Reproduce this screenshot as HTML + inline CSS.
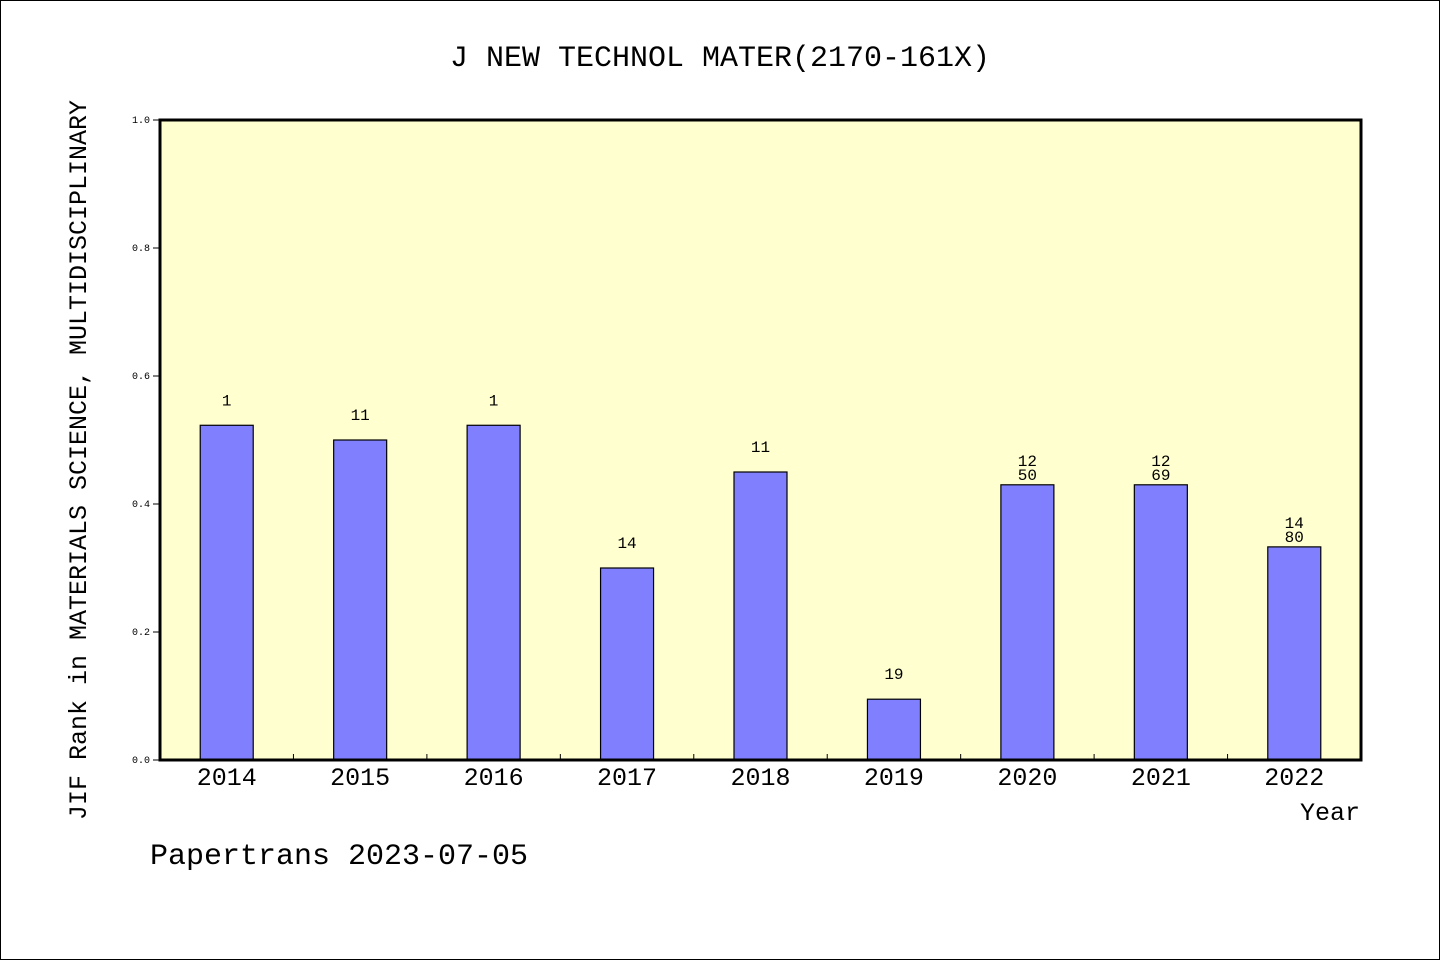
<!DOCTYPE html>
<html><head><meta charset="utf-8"><style>
html,body{margin:0;padding:0;background:#fff}
svg{display:block}
text{font-family:"Liberation Mono","DejaVu Sans Mono",monospace;fill:#000}
</style></head><body>
<svg id="chart" width="1440" height="960" xmlns="http://www.w3.org/2000/svg">
<rect x="0.5" y="0.5" width="1439" height="959" fill="#fff" stroke="#000"/>
<text x="720" y="66" font-size="30" text-anchor="middle">J NEW TECHNOL MATER(2170-161X)</text>
<rect x="160" y="120" width="1201" height="640" fill="#ffffd0"/>
<g id="bars"></g>
<g id="axes"></g>
<rect x="160" y="120" width="1201" height="640" fill="none" stroke="#000" stroke-width="3"/>
<text transform="translate(86,460) rotate(-90)" font-size="25" text-anchor="middle">JIF Rank in MATERIALS SCIENCE, MULTIDISCIPLINARY</text>
<text x="1360" y="820" font-size="25" text-anchor="end">Year</text>
<text x="150" y="864" font-size="30">Papertrans 2023-07-05</text>
</svg>
<script>
const categories = ["2014","2015","2016","2017","2018","2019","2020","2021","2022"];
const values = [0.523, 0.5, 0.523, 0.3, 0.45, 0.095, 0.43, 0.43, 0.333];
const labelTop = ["1","11","1","14","11","19","12","12","14"];
const labelBottom = ["","","","","","","50","69","80"];
const yTicks = ["0.0","0.2","0.4","0.6","0.8","1.0"];
const NS="http://www.w3.org/2000/svg";
const X0=160,X1=1361,Y0=760,Y1=120;
const step=(X1-X0)/categories.length;
const xc=i=>X0+step*(i+0.5);
const y=v=>Y0-(v)*(Y0-Y1);
const bars=document.getElementById('bars'), axes=document.getElementById('axes');
function mk(tag,attrs,parent){const e=document.createElementNS(NS,tag);for(const k in attrs)e.setAttribute(k,attrs[k]);parent.appendChild(e);return e;}
categories.forEach((c,i)=>{
  const bw=53, top=y(values[i]);
  const r=mk('rect',{x:xc(i)-bw/2,y:top,width:bw,height:Y0-top,fill:'#8080ff',stroke:'#000','stroke-width':1.2},bars);
  
  
  if(labelBottom[i]){
    const t1=mk('text',{x:xc(i),y:top-19,'font-size':16,'text-anchor':'middle'},bars);t1.textContent=labelTop[i];
    
    
    const t2=mk('text',{x:xc(i),y:top-5,'font-size':16,'text-anchor':'middle'},bars);t2.textContent=labelBottom[i];
    
    
  } else {
    const t=mk('text',{x:xc(i),y:top-20,'font-size':16,'text-anchor':'middle'},bars);t.textContent=labelTop[i];
    
    
  }
  const xl=mk('text',{x:xc(i),y:785,'font-size':25,'text-anchor':'middle'},axes);xl.textContent=c;
  
  
  if(i>0){const tk=mk('line',{x1:X0+step*i,x2:X0+step*i,y1:Y0,y2:Y0-6,stroke:'#000'},axes);
    
    }
});
yTicks.forEach(l=>{
  const yy=y(parseFloat(l));
  const tk=mk('line',{x1:X0-7,x2:X0,y1:yy,y2:yy,stroke:'#000'},axes);
  
  
  const t=mk('text',{x:X0-10,y:yy+3,'font-size':10,'text-anchor':'end'},axes);t.textContent=l;
  
  
});
</script>
</body></html>
